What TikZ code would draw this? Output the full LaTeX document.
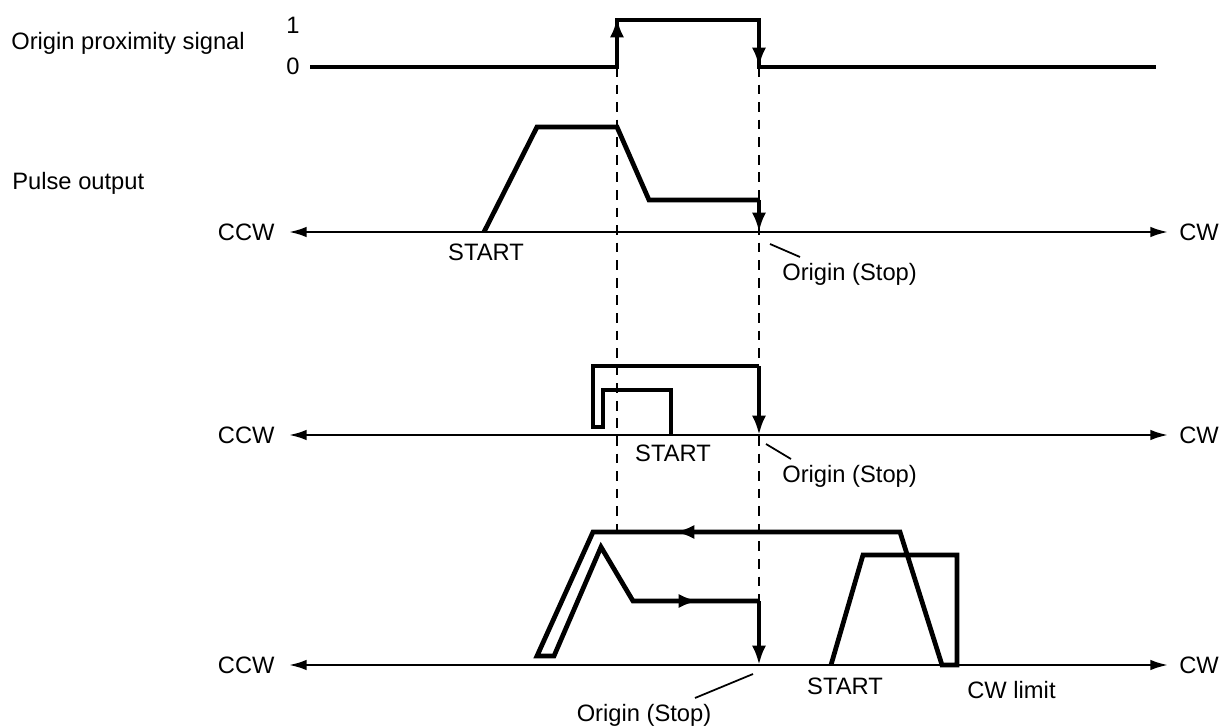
\documentclass[tikz,border=0pt]{standalone}
\usepackage{fontspec}
\setmainfont{Liberation Sans}
\usetikzlibrary{arrows.meta}
\begin{document}
\begin{tikzpicture}[x=0.2mm,y=-0.2mm]
	\tikzset{sig/.style={line width=2.7pt, line join=miter},
		sigtip/.style={sig, -{Latex[length=11pt,width=8pt]}},
		dirline/.style={line width=1.3pt, {Latex[length=10pt,width=6pt]}-{Latex[length=10pt,width=6pt]}},
		guide/.style={line width=1.4pt, dash pattern=on 5.5pt off 4.5pt},
		lead/.style={line width=1pt},
		lbl/.style={inner sep=0pt, font=\fontsize{13.5}{16}\selectfont}}
	\useasboundingbox (0,0) rectangle (1222,727);
	\node[lbl, anchor=west] (prox) at (11,43)  {Origin proximity signal};
	\node[lbl, anchor=west] (pulse) at (12,183) {Pulse output};
	\node[lbl] (one)  at (293,25) {1};
	\node[lbl] (zero) at (293,66) {0};
	\draw[guide] (617,67) -- (617,532);
	\draw[guide] (759,67) -- (759,601);
	\draw[sig] (310,67) -- (617,67) -- (617,20) -- (759,20) -- (759,67) -- (1156,67);
	\draw[sigtip] (617,67) -- (617,18);
	\draw[sigtip] (759,20) -- (759,67);
	\draw[dirline] (289,232) -- (1168,232);
	\node[lbl, anchor=east] (ccwa) at (275,232) {CCW};
	\node[lbl, anchor=west] (cwa)  at (1179,232) {CW};
	\draw[sig] (484,232) -- (537,127) -- (617,127) -- (649,200) -- (759,200);
	\draw[sigtip] (759,200) -- (759,232);
	\node[lbl] (starta) at (486,252) {START};
	\draw[lead] (770,244) -- (800,257);
	\node[lbl, anchor=west] (origa) at (782,274) {Origin (Stop)};
	\draw[dirline] (289,435) -- (1168,435);
	\node[lbl, anchor=east] (ccwb) at (275,435) {CCW};
	\node[lbl, anchor=west] (cwb)  at (1179,435) {CW};
	\draw[sig] (671,435) -- (671,390) -- (603,390) -- (603,427) -- (593,427) -- (593,366) -- (759,366);
	\draw[sigtip] (759,366) -- (759,435);
	\node[lbl] (startb) at (673,453) {START};
	\draw[lead] (766,444) -- (791,459);
	\node[lbl, anchor=west] (origb) at (782,476) {Origin (Stop)};
	\draw[dirline] (289,665) -- (1168,665);
	\node[lbl, anchor=east] (ccwc) at (275,665) {CCW};
	\node[lbl, anchor=west] (cwc)  at (1179,665) {CW};
	\draw[sig] (831,665) -- (863,555) -- (957,555) -- (957,665) -- (942,665) -- (900,532) -- (593,532) -- (537,656) -- (554,656) -- (601,547) -- (633,601) -- (759,601);
	\draw[sigtip] (900,532) -- (675,532);
	\draw[sigtip] (633,601) -- (698,601);
	\draw[sigtip] (759,601) -- (759,665);
	\node[lbl] (startc) at (845,686) {START};
	\node[lbl, anchor=west] (cwlim) at (967,690) {CW limit};
	\draw[lead] (695,698) -- (753,674);
	\node[lbl] (origc) at (644,715) {Origin (Stop)};
\end{tikzpicture}
\end{document}
